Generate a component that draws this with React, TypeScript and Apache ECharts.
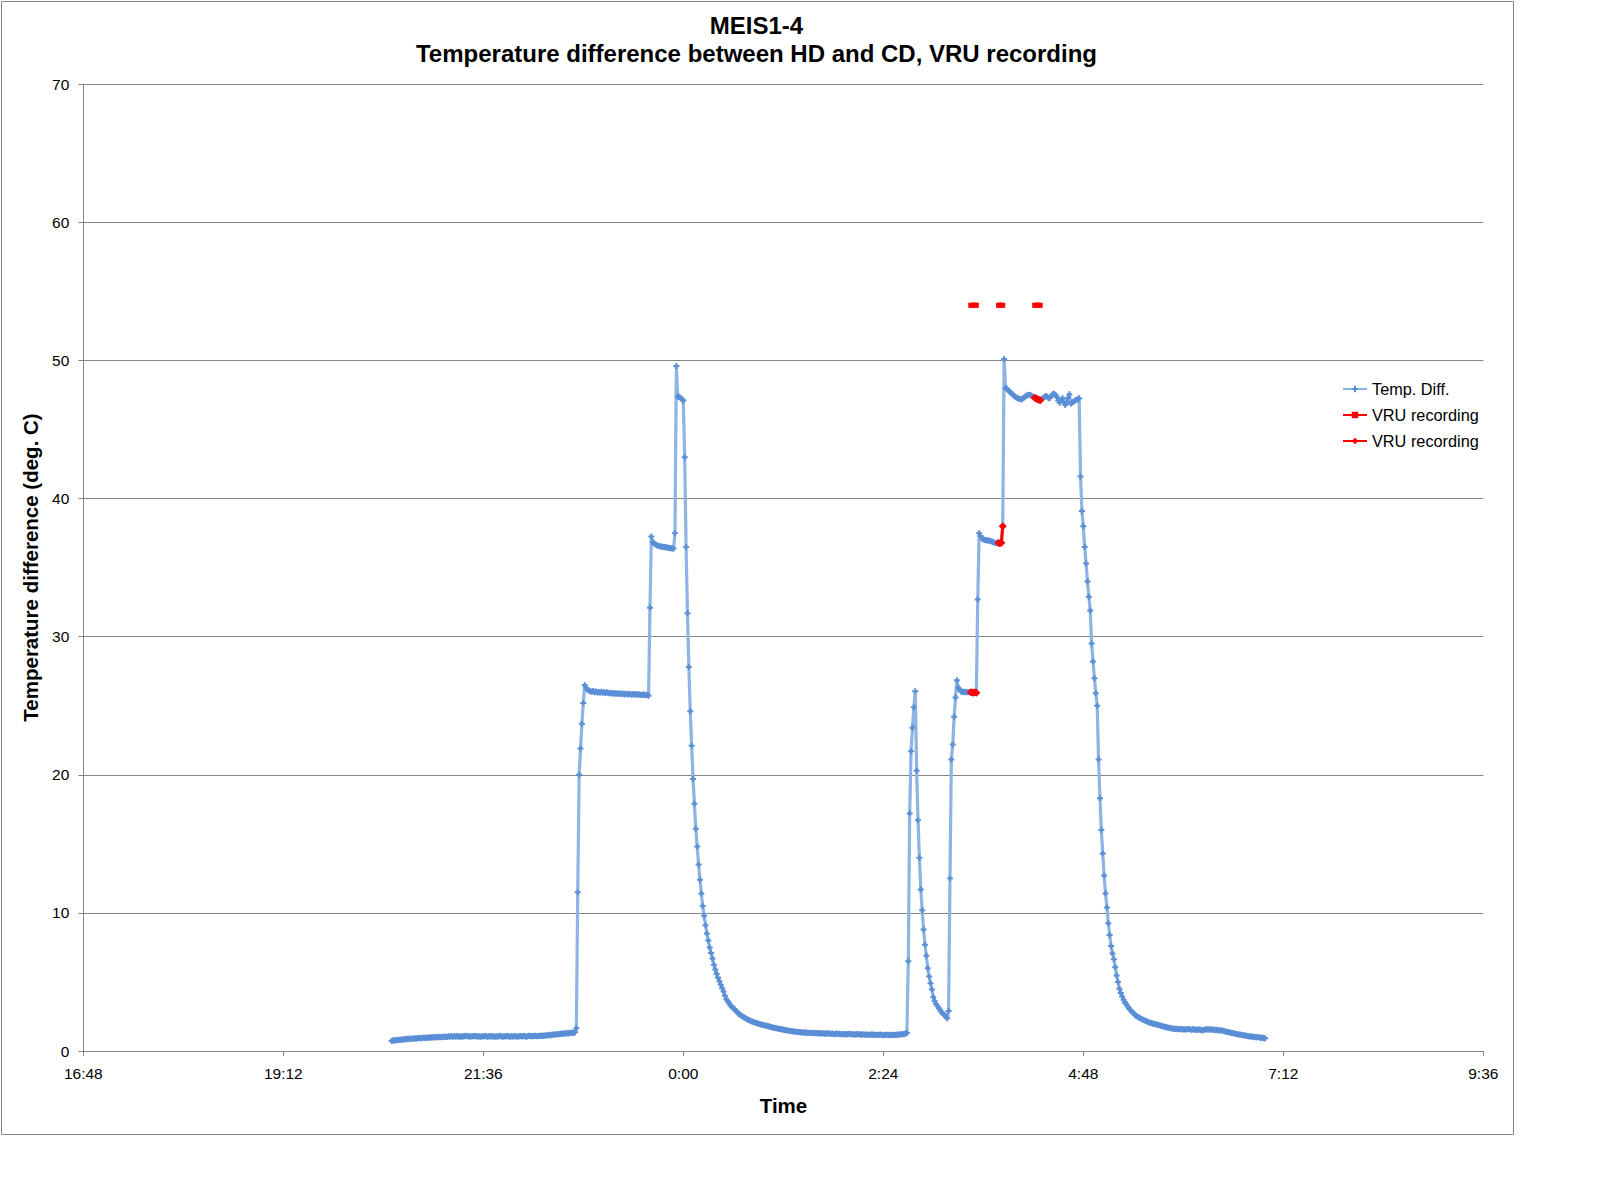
import React, { useEffect, useRef } from 'react';
import * as echarts from 'echarts';

const FONT = '"Liberation Sans", Arial, Helvetica, sans-serif';

const TITLE_LINE_1 = 'MEIS1-4';
const TITLE_LINE_2 = 'Temperature difference between HD and CD, VRU recording';
const X_TITLE = 'Time';
const Y_TITLE = 'Temperature difference (deg. C)';

// x axis: minutes since midnight of the first day (16:48 .. 9:36 next day)
const X_MIN = 1008;
const X_MAX = 2016;
const X_STEP = 144;
const Y_MIN = 0;
const Y_MAX = 70;
const Y_STEP = 10;

// Temp. Diff. readings, one per minute, grouped in phases (start minute given with each)
const baselineEvening = [
  0.72, 0.78, 0.75, 0.8, 0.77, 0.82, 0.8, 0.84, 0.81, 0.86,
  0.84, 0.88, 0.85, 0.9, 0.87, 0.91, 0.89, 0.93, 0.9, 0.94,
  0.92, 0.95, 0.93, 0.97, 0.94, 0.98, 0.95, 1.0, 0.96, 0.99,
  0.97, 1.01, 0.98, 1.03, 0.99, 1.02, 1.0, 1.04, 1.01, 1.05,
  1.02, 1.06, 1.03, 1.08, 1.04, 1.07, 1.05, 1.09, 1.04, 1.06,
  1.03, 1.07, 1.05, 1.1, 1.06, 1.08, 1.04, 1.07, 1.05, 1.09,
  1.06, 1.08, 1.04, 1.06, 1.03, 1.07, 1.05, 1.09, 1.06, 1.04,
  1.07, 1.05, 1.08, 1.04, 1.06, 1.03, 1.07, 1.05, 1.1, 1.06,
  1.04, 1.07, 1.05, 1.08, 1.06, 1.03, 1.06, 1.04, 1.08, 1.05,
  1.07, 1.04, 1.06, 1.09, 1.05, 1.08, 1.06, 1.04, 1.07, 1.1,
  1.06, 1.09, 1.07, 1.11, 1.08, 1.06, 1.1, 1.08, 1.12, 1.09,
  1.13, 1.1, 1.15, 1.12, 1.17, 1.14, 1.2, 1.17, 1.22, 1.19,
  1.24, 1.21, 1.27, 1.24, 1.29, 1.25, 1.31, 1.27, 1.33, 1.29,
  1.34, 1.3, 1.35,
];
const firstRise = [1.64, 11.5, 20.0, 21.9, 23.7, 25.2, 26.5];
const firstPlateau = [
  26.3, 26.15, 26.1, 26.05, 26.02, 26.06, 25.98, 26.03, 25.96, 26.0,
  25.95, 26.01, 25.94, 25.98, 25.92, 25.97, 25.9, 25.95, 25.88, 25.93,
  25.87, 25.91, 25.86, 25.9, 25.85, 25.89, 25.84, 25.88, 25.83, 25.87,
  25.82, 25.86, 25.83, 25.8, 25.85, 25.81, 25.84, 25.79, 25.83, 25.8,
  25.78, 25.82, 25.79, 25.76, 25.8, 25.72,
];
const secondRise = [32.1, 37.25];
const secondPlateau = [
  36.86, 36.75, 36.67, 36.62, 36.58, 36.55, 36.53, 36.52, 36.5, 36.48,
  36.47, 36.45, 36.43, 36.41, 36.39, 36.38,
];
const firstPeak = [37.5, 49.6, 47.4, 47.35, 47.3, 47.2, 47.1];
const firstDecay = [
  43.0, 36.5, 31.7, 27.8, 24.6, 22.1, 19.7, 17.9, 16.1, 14.8,
  13.5, 12.4, 11.4, 10.5, 9.8, 9.1, 8.5, 8.0, 7.5, 7.1,
  6.7, 6.25, 5.9, 5.6, 5.3, 5.05, 4.8, 4.55, 4.3, 4.0,
  3.75, 3.6, 3.45, 3.3, 3.2,
];
const overnightTail = [
  3.1, 3.0, 2.9, 2.8, 2.68, 2.6, 2.55, 2.48, 2.42, 2.36,
  2.3, 2.25, 2.2, 2.16, 2.12, 2.08, 2.05, 2.02, 1.98, 1.95,
  1.92, 1.9, 1.87, 1.85, 1.82, 1.79, 1.77, 1.74, 1.71, 1.7,
  1.67, 1.65, 1.63, 1.6, 1.59, 1.56, 1.55, 1.52, 1.51, 1.49,
  1.47, 1.45, 1.44, 1.42, 1.41, 1.39, 1.38, 1.37, 1.35, 1.36,
  1.34, 1.33, 1.35, 1.32, 1.31, 1.33, 1.3, 1.32, 1.29, 1.31,
  1.28, 1.3, 1.27, 1.29, 1.26, 1.28, 1.25, 1.27, 1.29, 1.26,
  1.24, 1.27, 1.25, 1.22, 1.26, 1.23, 1.25, 1.22, 1.24, 1.21,
  1.23, 1.2, 1.22, 1.25, 1.21, 1.23, 1.2, 1.22, 1.19, 1.21,
  1.24, 1.2, 1.18, 1.21, 1.19, 1.17, 1.2, 1.18, 1.16, 1.19,
  1.17, 1.2, 1.16, 1.18, 1.15, 1.17, 1.19, 1.16, 1.14, 1.17,
  1.15, 1.18, 1.16, 1.14, 1.17, 1.15, 1.18, 1.16, 1.19, 1.17,
  1.21, 1.19, 1.23, 1.21, 1.27, 1.3,
];
const shortPeak = [
  6.5, 17.2, 21.7, 23.4, 24.9, 26.05, 20.3, 16.7, 14.0, 11.7,
  10.2, 8.8, 7.7, 6.9, 6.0, 5.4, 4.9, 4.45, 3.9, 3.6,
  3.4, 3.25, 3.1, 2.95, 2.8, 2.7, 2.6, 2.5, 2.38, 2.9,
];
const thirdRise = [12.5, 21.1, 22.2, 24.2, 25.6, 26.85];
const thirdPlateau = [
  26.3, 26.15, 26.05, 26.0, 26.02, 25.98, 26.0, 25.97, 26.0, 25.98,
  25.96, 25.95, 25.97, 25.95,
];
const fourthRise = [32.7, 37.5];
const fourthPlateau = [
  37.3, 37.1, 37.05, 37.0, 36.98, 36.97, 36.96, 36.93, 36.9, 36.85,
  36.8, 36.78, 36.8, 36.78, 36.76, 36.8,
];
const secondPeak = [38.0, 50.1];
const topPlateau = [
  48.0, 47.95, 47.85, 47.74, 47.65, 47.55, 47.45, 47.38, 47.3, 47.26,
  47.22, 47.2, 47.19, 47.3, 47.38, 47.45, 47.5, 47.52, 47.5, 47.42,
  47.35, 47.3, 47.25, 47.2, 47.15, 47.12, 47.2, 47.26, 47.35, 47.43,
  47.38, 47.26, 47.3, 47.45, 47.55, 47.6, 47.5, 47.33, 47.1, 46.94,
  47.1, 47.26, 47.0, 46.77, 47.0, 47.3, 47.55, 46.86, 46.95, 47.02,
  47.1, 47.14, 47.2, 47.26,
];
const finalDecay = [
  41.6, 39.1, 38.0, 36.5, 35.3, 34.0, 32.9, 31.9, 29.5, 28.2,
  27.0, 25.9, 25.0, 21.1, 18.3, 16.0, 14.3, 12.7, 11.4, 10.4,
  9.25, 8.4, 7.6, 7.06, 6.65, 6.07, 5.46, 5.0, 4.5, 4.2,
  3.95, 3.72, 3.52, 3.38, 3.22, 3.08, 2.96, 2.85, 2.75, 2.65,
  2.56, 2.48, 2.42, 2.38, 2.32, 2.27, 2.22, 2.18, 2.13, 2.09,
];
const morningTail = [
  2.05, 2.02, 1.99, 1.96, 1.94, 1.92, 1.89, 1.86, 1.83, 1.8,
  1.77, 1.74, 1.72, 1.69, 1.68, 1.65, 1.63, 1.62, 1.6, 1.61,
  1.58, 1.6, 1.57, 1.59, 1.56, 1.58, 1.55, 1.57, 1.59, 1.56,
  1.54, 1.57, 1.55, 1.52, 1.56, 1.53, 1.55, 1.51, 1.5, 1.53,
  1.55, 1.57, 1.54, 1.58, 1.56, 1.53, 1.55, 1.51, 1.54, 1.5,
  1.48, 1.5, 1.46, 1.47, 1.43, 1.4, 1.38, 1.35, 1.33, 1.3,
  1.28, 1.27, 1.24, 1.22, 1.2, 1.18, 1.17, 1.14, 1.12, 1.13,
  1.09, 1.07, 1.05, 1.06, 1.02, 1.04, 1.0, 0.99, 1.01, 0.97,
  0.95, 0.97, 0.93, 0.92,
];

// [start minute, readings]
const tempSegments: [number, number[]][] = [
  [1230, baselineEvening],
  [1363, firstRise],
  [1370, firstPlateau],
  [1416, secondRise],
  [1418, secondPlateau],
  [1434, firstPeak],
  [1441, firstDecay],
  [1476, overnightTail],
  [1602, shortPeak],
  [1632, thirdRise],
  [1638, thirdPlateau],
  [1652, fourthRise],
  [1654, fourthPlateau],
  [1670, secondPeak],
  [1672, topPlateau],
  [1726, finalDecay],
  [1776, morningTail],
];

// VRU recording marker level (squares) and temperature during recording (diamonds)
const vruLevelTimes = [
  [1647, 1648, 1649, 1650, 1651],
  [1667, 1668, 1669, 1670],
  [1693, 1694, 1695, 1696, 1697],
];
const vruLevelValue = 54;
const vruTempTimes = [
  [1647, 1648, 1649, 1650, 1651],
  [1667, 1668, 1669, 1670],
  [1693, 1694, 1695, 1696, 1697],
];
const vruTempValues = [
  [25.98, 25.96, 25.95, 25.97, 25.95],
  [36.78, 36.76, 36.8, 38.0],
  [47.3, 47.25, 47.2, 47.15, 47.12],
];

const SERIES_NAMES = ['Temp. Diff.', 'VRU recording', 'VRU recording#2'];

const PLUS = 'path://M2,0H4V2H6V4H4V6H2V4H0V2H2Z';

function fmtTime(v: number): string {
  const m = ((Math.round(v) % 1440) + 1440) % 1440;
  const h = Math.floor(m / 60);
  const mm = m % 60;
  return `${h}:${String(mm).padStart(2, '0')}`;
}

function buildTemp(): [number, number][] {
  const out: [number, number][] = [];
  tempSegments.forEach(([start, vals]) => {
    vals.forEach((v, i) => out.push([start + i, v]));
  });
  return out;
}

function buildChunks(times: number[][], values: (i: number, j: number) => number): any[] {
  const out: any[] = [];
  times.forEach((chunk, i) => {
    chunk.forEach((t, j) => out.push([t, values(i, j)]));
    if (i < times.length - 1) out.push([chunk[chunk.length - 1] + 1, '-']);
  });
  return out;
}

export default function App() {
  const ref = useRef<HTMLDivElement>(null);
  useEffect(() => {
    if (!ref.current) return;
    const chart = echarts.init(ref.current, undefined, { renderer: 'svg' });
    const axisGray = '#868686';
    const option: any = {
      animation: false,
      backgroundColor: '#ffffff',
      grid: { left: 83.3, top: 84.3, width: 1400, height: 966.7, containLabel: false },
      xAxis: {
        type: 'value',
        min: X_MIN,
        max: X_MAX,
        interval: X_STEP,
        axisLine: { show: true, onZero: false, lineStyle: { color: axisGray, width: 1 } },
        axisTick: { show: true, inside: false, length: 5, lineStyle: { color: axisGray } },
        splitLine: { show: false },
        axisLabel: {
          margin: 14,
          color: '#000',
          fontSize: 15.5,
          fontFamily: FONT,
          showMinLabel: true,
          showMaxLabel: true,
          formatter: (v: number) => fmtTime(v),
        },
      },
      yAxis: {
        type: 'value',
        min: Y_MIN,
        max: Y_MAX,
        interval: Y_STEP,
        axisLine: { show: true, lineStyle: { color: axisGray, width: 1 } },
        axisTick: { show: true, inside: false, length: 5, lineStyle: { color: axisGray } },
        splitLine: { show: true, lineStyle: { color: axisGray, width: 1 } },
        axisLabel: {
          margin: 14,
          color: '#000',
          fontSize: 15.5,
          fontFamily: FONT,
          showMinLabel: true,
          showMaxLabel: true,
        },
      },
      legend: {
        orient: 'vertical',
        left: 1337,
        top: 376,
        itemWidth: 24,
        itemHeight: 8,
        itemGap: 10,
        selectedMode: false,
        data: SERIES_NAMES,
        formatter: (name: string) => name.split('#')[0],
        textStyle: { color: '#000', fontSize: 16.3, fontFamily: FONT, lineHeight: 16 },
      },
      graphic: [
        {
          type: 'rect',
          shape: { x: 1.5, y: 1.5, width: 1512, height: 1133 },
          style: { fill: 'none', stroke: axisGray, lineWidth: 1 },
          silent: true,
        },
        {
          type: 'text',
          x: 756.5,
          y: 25.5,
          style: {
            text: TITLE_LINE_1,
            fill: '#000',
            font: `bold 24px ${FONT}`,
            align: 'center',
            verticalAlign: 'middle',
          },
        },
        {
          type: 'text',
          x: 756.5,
          y: 53,
          style: {
            text: TITLE_LINE_2,
            fill: '#000',
            font: `bold 24px ${FONT}`,
            align: 'center',
            verticalAlign: 'middle',
          },
        },
        {
          type: 'text',
          x: 783.5,
          y: 1105.5,
          style: {
            text: X_TITLE,
            fill: '#000',
            font: `bold 20.5px ${FONT}`,
            align: 'center',
            verticalAlign: 'middle',
          },
        },
        {
          type: 'text',
          x: 30.5,
          y: 567.5,
          rotation: Math.PI / 2,
          style: {
            text: Y_TITLE,
            fill: '#000',
            font: `bold 20.5px ${FONT}`,
            align: 'center',
            verticalAlign: 'middle',
          },
        },
      ],
      series: [
        {
          name: SERIES_NAMES[0],
          type: 'line',
          data: buildTemp(),
          symbol: PLUS,
          symbolSize: 6,
          showAllSymbol: true,
          lineStyle: { color: '#8db4e3', width: 3.2 },
          itemStyle: { color: '#5a8ed6' },
          emphasis: { disabled: true },
          silent: true,
          z: 2,
        },
        {
          name: SERIES_NAMES[1],
          type: 'line',
          data: buildChunks(vruLevelTimes, () => vruLevelValue),
          symbol: 'rect',
          symbolSize: 5,
          showAllSymbol: true,
          connectNulls: false,
          lineStyle: { color: '#ff0000', width: 3.5 },
          itemStyle: { color: '#ff0000' },
          emphasis: { disabled: true },
          silent: true,
          z: 3,
        },
        {
          name: SERIES_NAMES[2],
          type: 'line',
          data: buildChunks(vruTempTimes, (i, j) => vruTempValues[i][j]),
          symbol: 'diamond',
          symbolSize: 8,
          showAllSymbol: true,
          connectNulls: false,
          lineStyle: { color: '#ff0000', width: 3 },
          itemStyle: { color: '#ff0000' },
          emphasis: { disabled: true },
          silent: true,
          z: 4,
        },
      ],
    };
    chart.setOption(option);
    return () => chart.dispose();
  }, []);
  return (
    <div
      ref={ref}
      style={{ position: 'absolute', left: 0, top: 0, width: 1598, height: 1202, background: '#fff' }}
    />
  );
}
